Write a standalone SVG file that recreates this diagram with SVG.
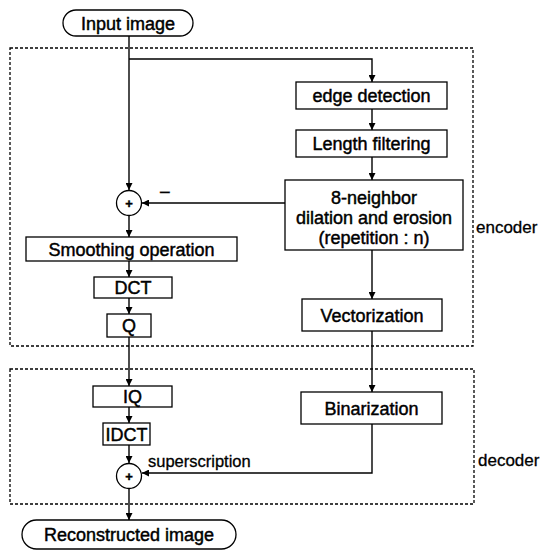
<svg xmlns="http://www.w3.org/2000/svg" width="541" height="553" viewBox="0 0 541 553">
<style>
.box{fill:#fff;stroke:#000;stroke-width:1.3}
.grp{fill:none;stroke:#000;stroke-width:1.3;stroke-dasharray:3 2}
.lbl{font-family:"Liberation Sans",Arial,sans-serif;font-size:18px;text-anchor:middle;fill:#000;stroke:#000;stroke-width:0.45}
.side{font-family:"Liberation Sans",Arial,sans-serif;font-size:17px;fill:#000;stroke:#000;stroke-width:0.3}
.sm{font-family:"Liberation Sans",Arial,sans-serif;font-size:16.5px;fill:#000;stroke:#000;stroke-width:0.3}
.ln{fill:none;stroke:#000;stroke-width:1.4}
</style>
<defs>
<marker id="ah" viewBox="0 0 10 10" refX="10" refY="5" markerWidth="7" markerHeight="7" markerUnits="userSpaceOnUse" orient="auto">
<path d="M0,0 L10,5 L0,10 z" fill="#000"/>
</marker>
</defs>
<rect width="541" height="553" fill="#fff"/>
<g id="encoder-group">
<rect class="grp" x="10" y="48" width="463" height="298"/>
<text class="side" x="476" y="233">encoder</text>
</g>
<g id="decoder-group">
<rect class="grp" x="10" y="369" width="464" height="135"/>
<text class="side" x="478" y="466">decoder</text>
</g>
<g id="connectors">
<path class="ln" d="M129,36 V190" marker-end="url(#ah)"/>
<path class="ln" d="M129,59 H372 V82" marker-end="url(#ah)"/>
<path class="ln" d="M372,109 V130" marker-end="url(#ah)"/>
<path class="ln" d="M372,157 V180" marker-end="url(#ah)"/>
<path class="ln" d="M285,203 H142" marker-end="url(#ah)"/>
<path class="ln" d="M129,216 V237" marker-end="url(#ah)"/>
<path class="ln" d="M129,261 V277" marker-end="url(#ah)"/>
<path class="ln" d="M129,298 V314" marker-end="url(#ah)"/>
<path class="ln" d="M129,337 V386" marker-end="url(#ah)"/>
<path class="ln" d="M129,407 V423" marker-end="url(#ah)"/>
<path class="ln" d="M129,445 V463" marker-end="url(#ah)"/>
<path class="ln" d="M129,489 V520" marker-end="url(#ah)"/>
<path class="ln" d="M372,250 V299" marker-end="url(#ah)"/>
<path class="ln" d="M372,331 V392" marker-end="url(#ah)"/>
<path class="ln" d="M372,424 V473 H142" marker-end="url(#ah)"/>
<text class="sm" x="159" y="199" style="font-size:20px">−</text>
<text class="sm" x="148" y="467">superscription</text>
</g>
<g id="input">
<rect class="box" x="63" y="10" width="130" height="26" rx="13"/>
<text class="lbl" x="128" y="29.5">Input image</text>
</g>
<g id="edge">
<rect class="box" x="296" y="82" width="151" height="27"/>
<text class="lbl" x="371.5" y="102">edge detection</text>
</g>
<g id="length">
<rect class="box" x="296" y="130" width="151" height="27"/>
<text class="lbl" x="371.5" y="150">Length filtering</text>
</g>
<g id="dilation">
<rect class="box" x="285" y="180" width="178" height="70"/>
<text class="lbl" x="374" y="204">8-neighbor</text>
<text class="lbl" x="374" y="224">dilation and erosion</text>
<text class="lbl" x="374" y="243.5">(repetition : n)</text>
</g>
<g id="sum1">
<circle class="box" cx="129" cy="203" r="12.5"/>
<text class="lbl" x="129" y="208" style="font-size:13px;font-weight:bold">+</text>
</g>
<g id="smooth">
<rect class="box" x="26" y="237" width="211" height="24"/>
<text class="lbl" x="131.5" y="255.5">Smoothing operation</text>
</g>
<g id="dct">
<rect class="box" x="94" y="277" width="78" height="21"/>
<text class="lbl" x="133" y="294">DCT</text>
</g>
<g id="q">
<rect class="box" x="107" y="314" width="44" height="23"/>
<text class="lbl" x="129" y="332">Q</text>
</g>
<g id="vector">
<rect class="box" x="302" y="299" width="140" height="32"/>
<text class="lbl" x="372" y="321.5">Vectorization</text>
</g>
<g id="binar">
<rect class="box" x="301" y="392" width="141" height="32"/>
<text class="lbl" x="371.5" y="414.5">Binarization</text>
</g>
<g id="iq">
<rect class="box" x="93" y="386" width="79" height="21"/>
<text class="lbl" x="132.5" y="403">IQ</text>
</g>
<g id="idct">
<rect class="box" x="103" y="423" width="47" height="22"/>
<text class="lbl" x="126.5" y="440.5">IDCT</text>
</g>
<g id="sum2">
<circle class="box" cx="129" cy="476" r="12.5"/>
<text class="lbl" x="129" y="481" style="font-size:13px;font-weight:bold">+</text>
</g>
<g id="output">
<rect class="box" x="22" y="520" width="214" height="29" rx="14.5"/>
<text class="lbl" x="129" y="541">Reconstructed image</text>
</g>
</svg>
